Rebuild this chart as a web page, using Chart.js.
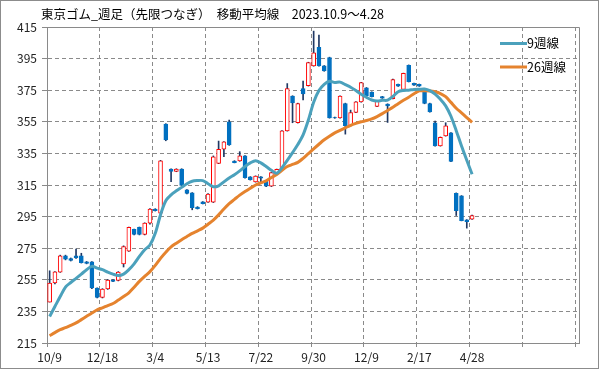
<!DOCTYPE html>
<html><head><meta charset="utf-8">
<script src="https://cdn.jsdelivr.net/npm/chart.js@4.4.0/dist/chart.umd.min.js"></script>
<style>html,body{margin:0;padding:0;background:#fff;}#wrap{width:599px;height:369px;}</style>
</head><body><div id="wrap"><canvas id="c" width="599" height="369"></canvas></div>
<script>
const titleText = '東京ゴム_週足（先限つなぎ）　移動平均線　2023.10.9～4.28';
const tickLabels = ['10/9','12/18','3/4','5/13','7/22','9/30','12/9','2/17','4/28'];
const seriesNames = ['9週線','26週線'];

const opens = [240.9,253.0,259.9,270.1,268.5,270.1,270.1,266.4,266.4,249.8,
243.9,249.2,254.9,254.6,265.0,273.1,286.9,288.2,283.7,290.9,
299.8,297.2,353.5,325.1,323.6,325.1,311.9,310.0,301.1,304.3,
304.1,304.1,328.7,337.6,355.0,330.2,330.2,333.4,320.1,317.0,
320.1,317.8,314.2,322.8,324.9,349.3,371.3,354.4,376.1,377.8,
390.4,402.1,390.4,395.7,357.7,357.5,366.6,352.5,360.9,367.6,
376.5,373.8,364.8,370.9,366.2,369.7,378.7,375.5,390.8,379.3,
378.7,375.0,366.6,354.4,339.8,346.1,348.0,309.8,308.1,292.9,
293.4];
const closes = [253.0,260.0,270.1,268.1,267.2,268.9,265.9,265.3,249.8,243.9,
249.2,254.9,254.0,259.9,276.1,288.2,283.7,283.7,290.9,299.8,
298.7,330.3,343.5,323.6,325.1,314.7,309.6,300.7,300.0,303.2,
309.2,332.8,337.6,342.3,340.3,329.2,333.4,319.6,318.3,320.6,
319.3,314.2,322.8,324.9,349.3,376.1,367.0,366.6,372.6,392.5,
398.6,390.4,387.2,357.5,357.5,371.2,352.5,360.9,367.6,379.8,
371.5,370.9,368.4,370.0,365.1,381.8,377.6,385.6,380.4,378.2,
377.6,366.6,361.3,339.8,345.2,352.4,329.9,298.8,292.5,291.8,
295.7];
const highs = [260.7,260.2,270.6,270.6,268.8,274.5,271.8,266.6,266.6,249.9,
249.4,255.2,255.2,260.2,276.5,288.4,287.1,288.4,291.1,300.0,
300.0,330.6,353.8,325.3,325.3,325.3,312.1,310.2,301.3,304.5,
309.5,333.4,342.8,342.5,356.1,330.4,336.1,333.6,320.3,320.8,
320.3,318.0,323.0,325.1,349.5,379.2,371.5,366.8,380.7,392.7,
412.4,409.9,390.6,395.9,358.0,371.4,366.8,362.4,367.8,380.0,
376.7,374.0,368.6,371.1,366.4,382.0,378.9,385.8,391.0,379.5,
378.9,375.2,366.8,355.4,345.4,354.4,348.2,310.0,308.3,293.1,
295.9];
const lows = [240.9,252.4,259.7,267.6,266.9,268.6,265.6,265.1,249.4,243.5,
243.5,248.9,253.8,254.3,263.1,273.0,283.4,283.4,283.4,290.2,
298.5,297.0,343.0,317.1,323.4,314.5,309.4,299.3,299.8,303.0,
303.9,303.9,328.5,333.0,340.1,329.0,330.0,319.4,318.1,316.8,
316.8,314.0,314.0,322.6,324.7,349.1,354.4,354.2,368.9,377.6,
390.2,390.2,387.0,357.3,357.2,357.3,347.2,352.3,360.7,367.4,
371.3,370.7,364.6,369.8,354.6,369.5,377.4,375.3,380.2,378.0,
377.4,366.4,361.1,339.6,339.6,345.9,329.7,295.7,292.3,287.7,
293.2];
const ma9 = [231.8,238.1,244.4,250.4,253.3,255.9,258.6,261.4,263.5,262.4,
261.4,259.9,258.6,257.7,258.6,261.4,265.1,269.8,274.0,277.0,
284.4,296.2,305.0,308.8,311.3,313.5,315.8,317.4,317.8,317.8,
315.8,313.9,314.5,317.0,319.5,321.5,323.9,326.7,329.0,330.4,
329.0,326.7,324.3,322.4,325.9,330.6,335.5,340.6,346.7,356.1,
367.4,374.8,378.7,380.7,379.9,380.1,378.5,376.9,374.8,372.4,
370.5,368.8,368.1,368.6,368.7,371.0,374.0,374.8,375.0,375.5,
375.6,375.7,374.7,372.5,369.2,365.1,358.5,349.4,339.7,330.7,
321.8];
const ma26 = [219.6,221.6,223.4,224.7,226.2,227.7,229.8,231.9,234.0,236.0,
237.3,238.7,240.0,242.2,244.4,246.8,250.3,254.0,257.2,260.2,
264.1,268.6,272.5,275.8,278.2,280.4,282.4,284.4,286.0,287.7,
290.2,292.8,296.1,299.8,303.2,305.9,308.6,310.9,313.0,315.0,
316.4,317.6,319.7,321.6,324.3,326.7,328.0,329.3,331.9,334.9,
337.9,340.8,343.6,345.9,348.0,349.6,351.2,352.8,354.0,355.0,
355.8,356.8,358.3,360.2,362.2,364.2,366.5,368.6,370.6,372.8,
374.6,374.6,374.5,374.0,372.9,370.9,367.3,363.6,360.7,357.7,
354.7];

const UP_BORDER = '#FF0000', DOWN_FILL = '#0070C0', WICK = '#1F3864';
const LINE_COLORS = ['#4BA1BC', '#E5832E'];
const GRID = '#8a8a8a';
const FONT = '"Noto Sans CJK JP", "Liberation Sans", sans-serif';

const isUp = opens.map((o, i) => closes[i] >= o);
const bodyData = opens.map((o, i) => ({x: i, y: [o, closes[i]]}));
const wickData = lows.map((l, i) => ({x: i, y: [l, highs[i]]}));
const tickPositions = [];
for (let k = 0; k <= 10; k++) tickPositions.push(k * 10 - 0.5);

const framePlugin = {
  id: 'frame',
  beforeDraw(chart) {
    const ctx = chart.ctx;
    ctx.save();
    ctx.fillStyle = '#fff';
    ctx.fillRect(0, 0, chart.width, chart.height);
    ctx.restore();
  },
  beforeDatasetsDraw(chart) {
    const {ctx, chartArea: a} = chart;
    ctx.save();
    ctx.strokeStyle = GRID;
    ctx.lineWidth = 1;
    ctx.beginPath();
    ctx.moveTo(Math.round(a.left) + 0.5, Math.round(a.top) + 0.5);
    ctx.lineTo(Math.round(a.right) + 0.5, Math.round(a.top) + 0.5);
    ctx.lineTo(Math.round(a.right) + 0.5, Math.round(a.bottom) + 0.5);
    ctx.stroke();
    ctx.restore();
  },
  afterDraw(chart) {
    const ctx = chart.ctx;
    ctx.save();
    ctx.strokeStyle = '#8c8c8c';
    ctx.lineWidth = 1;
    ctx.strokeRect(0.5, 0.5, chart.width - 1, chart.height - 1);
    ctx.fillStyle = '#000';
    ctx.font = '12.5px ' + FONT;
    ctx.textBaseline = 'middle';
    ctx.fillText(titleText, 41, 14);
    ctx.font = '12.5px ' + FONT;
    chart.data.datasets.filter(d => d.type === 'line').forEach((d, k) => {
      const y = 43.5 + k * 23.5;
      ctx.strokeStyle = d.borderColor;
      ctx.lineWidth = 3;
      ctx.beginPath();
      ctx.moveTo(500, y);
      ctx.lineTo(527, y);
      ctx.stroke();
      ctx.fillStyle = '#000';
      ctx.fillText(d.label, 527, y);
    });
    ctx.restore();
  }
};

new Chart(document.getElementById('c'), {
  type: 'bar',
  data: {
    datasets: [
      {type: 'line', label: seriesNames[0], data: ma9.map((v, i) => ({x: i, y: v})),
       borderColor: LINE_COLORS[0], borderWidth: 3, pointRadius: 0, tension: 0.3, order: 0},
      {type: 'line', label: seriesNames[1], data: ma26.map((v, i) => ({x: i, y: v})),
       borderColor: LINE_COLORS[1], borderWidth: 3, pointRadius: 0, tension: 0.3, order: 0},
      {type: 'bar', label: 'body', data: bodyData, grouped: false,
       backgroundColor: isUp.map(u => u ? '#ffffff' : DOWN_FILL),
       borderColor: isUp.map(u => u ? UP_BORDER : DOWN_FILL),
       borderWidth: 1, borderSkipped: false, barThickness: 4, order: 1},
      {type: 'bar', label: 'wick', data: wickData, grouped: false,
       backgroundColor: WICK, borderWidth: 0, barThickness: 1, order: 2}
    ]
  },
  options: {
    responsive: false,
    animation: false,
    devicePixelRatio: 1,
    layout: {padding: {top: 27, right: 20, bottom: 0, left: 0}},
    plugins: {legend: {display: false}, tooltip: {enabled: false}, title: {display: false}},
    scales: {
      x: {
        type: 'linear', min: -0.5, max: 100.25, offset: false,
        afterBuildTicks: s => { s.ticks = tickPositions.map(v => ({value: v})); },
        afterFit: s => { s.height = 26; },
        ticks: {
          autoSkip: false, maxRotation: 0, labelOffset: 2.64, padding: 3,
          color: '#222', font: {family: FONT, size: 12},
          callback: (v, idx) => tickLabels[idx] || ''
        },
        grid: {offset: false, color: GRID, lineWidth: 1, tickLength: 4, tickColor: GRID, tickBorderDash: []},
        border: {display: true, color: GRID, width: 1, dash: [4, 3]}
      },
      y: {
        min: 215, max: 415,
        afterFit: s => { s.width = 47; },
        ticks: {stepSize: 20, padding: 5, color: '#222', font: {family: FONT, size: 12}},
        grid: {color: GRID, lineWidth: 1, tickLength: 5, tickColor: GRID, tickBorderDash: []},
        border: {display: true, color: GRID, width: 1, dash: [4, 3]}
      }
    }
  },
  plugins: [framePlugin]
});
</script></body></html>
